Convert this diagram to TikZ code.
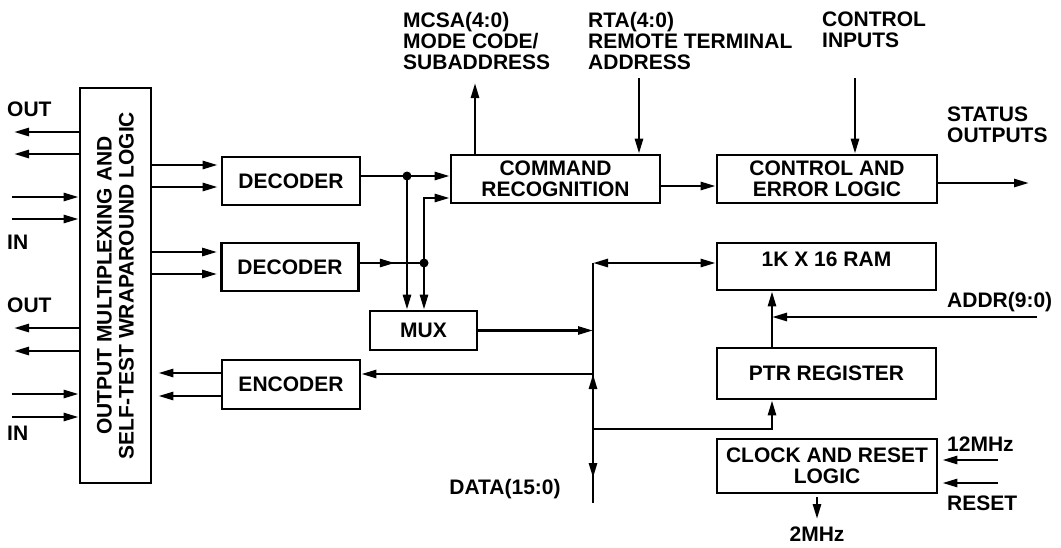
\documentclass[tikz,border=0pt]{standalone}
\usepackage{fontspec}
\setmainfont{Liberation Sans}
\usetikzlibrary{arrows.meta,calc}

\tikzset{
  blk/.style={draw, line width=2.7pt, inner sep=0pt, align=center,
    font=\bfseries\fontsize{21}{21}\selectfont},
  lbl/.style={inner sep=0pt, align=left, font=\bfseries\fontsize{21}{21}\selectfont},
  wire/.style={line width=2.6pt},
  arr/.style={wire, -{Triangle[length=15pt,width=8pt]}},
  arrboth/.style={wire, {Triangle[length=15pt,width=8pt]}-{Triangle[length=15pt,width=8pt]}}
}

\begin{document}
\begin{tikzpicture}[x=1pt,y=-1pt]

\useasboundingbox (0,0) rectangle (1061,547);

% Positions of the data bus and the address line
\def\busx{593} % x of the vertical data bus
\def\addry{317} % y of the ADDR(9:0) line

% Blocks
\node[blk, minimum width=71pt, minimum height=395pt] (wrap) at (115.5,285.5) {};
\node[lbl, align=center, rotate=90, font=\bfseries\fontsize{21}{22}\selectfont] (wraptext) at (wrap.center)
  {OUTPUT MULTIPLEXING AND\\SELF-TEST WRAPAROUND LOGIC};
\node[blk, minimum width=138pt, minimum height=48pt] (decA) at (291,181) {DECODER};
\node[blk, minimum width=137pt, minimum height=48pt] (decB) at (290,267) {DECODER};
\node[blk, minimum width=138pt, minimum height=49pt] (enc) at (291,384.5) {ENCODER};
\node[blk, minimum width=107pt, minimum height=39pt] (mux) at (423.5,330.5) {MUX};
\node[blk, minimum width=209pt, minimum height=48pt] (cmd) at (555.5,179) {COMMAND\\RECOGNITION};
\node[blk, minimum width=220pt, minimum height=48pt] (ctl) at (827,179) {CONTROL AND\\ERROR LOGIC};
\node[blk, minimum width=219pt, minimum height=47pt, text depth=14pt] (ram) at (826.5,266.5) {1K X 16 RAM};
\node[blk, minimum width=219pt, minimum height=51pt] (ptr) at (826.5,373.5) {PTR REGISTER};
\node[blk, minimum width=220pt, minimum height=54pt] (clk) at (827,466) {CLOCK AND RESET\\LOGIC};

% Line pairs on the left of the wraparound block
\foreach \y/\n in {132/a,154/b,328/c,351/d} {
  \coordinate (out\n) at (14,\y);
  \draw[arr] (wrap.west |- out\n) -- (out\n);
}
\foreach \y/\n in {197/a,219/b,394/c,417/d} {
  \coordinate (in\n) at (12,\y);
  \draw[arr] (in\n) -- (wrap.west |- in\n);
}
\node[lbl, anchor=west] (outlblA) at (7,109) {OUT};
\node[lbl, anchor=west] (inlblA) at (7,242) {IN};
\node[lbl, anchor=west] (outlblB) at (7,305) {OUT};
\node[lbl, anchor=west] (inlblB) at (7,433) {IN};

% Wraparound block to decoders, encoder back
\foreach \y/\n in {165/a,187/b} {
  \coordinate (rowA\n) at (0,\y);
  \draw[arr, shorten >=3pt] (wrap.east |- rowA\n) -- (decA.west |- rowA\n);
}
\foreach \y/\n in {252/a,274/b} {
  \coordinate (rowB\n) at (0,\y);
  \draw[arr, shorten >=3pt] (wrap.east |- rowB\n) -- (decB.west |- rowB\n);
}
\foreach \y/\n in {373/a,396/b} {
  \coordinate (rowE\n) at (0,\y);
  \draw[arr, shorten >=6pt] (enc.west |- rowE\n) -- (wrap.east |- rowE\n);
}

% Decoder outputs to command recognition and MUX
\coordinate (dotA) at (407,176);
\coordinate (dotB) at (424,263);
\coordinate (cmdin) at ($(cmd.west)+(0,19)$);
\draw[arr] (decA.east |- dotA) -- (cmd.west |- dotA);
\draw[arr] (dotA) -- (dotA |- mux.north);
\draw[wire] (decB.east |- dotB) -- (dotB);
\draw[arr] (decB.east |- dotB) -- ++(35,0);
\draw[arr] (dotB) |- (cmdin);
\draw[arr] (dotB) -- (dotB |- mux.north);
\fill (dotA) circle (4.5pt);
\fill (dotB) circle (4.5pt);

% Data bus
\coordinate (bustop) at (\busx,263);
\coordinate (busbot) at (\busx,503);
\coordinate (busenc) at (\busx,374);
\coordinate (busptr) at (\busx,429);
\coordinate (busdn) at (\busx,478);
\draw[wire] (bustop) -- (busbot);
\draw[arrboth] (bustop) -- (ram.west |- bustop);
\draw[arr] (mux.east) -- (mux.east -| bustop);
\draw[arr] (busenc) -- (enc.east |- busenc);
\draw[arr] (busptr) -- (busenc);
\draw[arr] (busptr) -- (busdn);
\node[lbl] (datalbl) at (505,489) {DATA(15:0)};

% Pointer register and address
\coordinate (ptrin) at ($(ptr.south)+(-54.5,0)$);
\coordinate (addrend) at (1037,\addry);
\draw[arr] (busptr) -| (ptrin);
\draw[arr] (ptr.north -| ptrin) -- (ram.south -| ptrin);
\draw[arr] (addrend) -- (addrend -| ptrin);
\node[lbl, anchor=west] (addrlbl) at (947,302) {ADDR(9:0)};

% Top signals
\coordinate (mcsaend) at (475,83);
\coordinate (rtastart) at (639,78);
\coordinate (ctlstart) at (855,78);
\coordinate (cmdout) at ($(cmd.east)+(0,7)$);
\coordinate (statusend) at (1029,183);
\draw[arr] (cmd.north -| mcsaend) -- (mcsaend);
\draw[arr] (rtastart) -- (rtastart |- cmd.north);
\draw[arr] (ctlstart) -- (ctlstart |- ctl.north);
\draw[arr] (cmdout) -- (cmdout -| ctl.west);
\draw[arr] (ctl.east |- statusend) -- (statusend);
\node[lbl, anchor=north west] (mcsalbl) at (403,12) {MCSA(4:0)\\MODE CODE/\\SUBADDRESS};
\node[lbl, anchor=north west] (rtalbl) at (588,12) {RTA(4:0)\\REMOTE TERMINAL\\ADDRESS};
\node[lbl, anchor=north west] (ctllbl) at (822,12) {CONTROL\\INPUTS};
\node[lbl, anchor=north west] (statlbl) at (947,107) {STATUS\\OUTPUTS};

% Clock and reset
\coordinate (clkin) at (998,460);
\coordinate (rstin) at (998,483);
\coordinate (twoend) at (817,519);
\draw[arr, shorten >=4pt] (clkin) -- (clkin -| clk.east);
\draw[arr, shorten >=4pt] (rstin) -- (rstin -| clk.east);
\draw[arr, shorten <=3pt] (clk.south -| twoend) -- (twoend);
\node[lbl, anchor=south] (twolbl) at (817,542) {2MHz};
\node[lbl, anchor=west] (mhzlbl) at (947,444) {12MHz};
\node[lbl, anchor=west] (rstlbl) at (947,503) {RESET};

\end{tikzpicture}
\end{document}
